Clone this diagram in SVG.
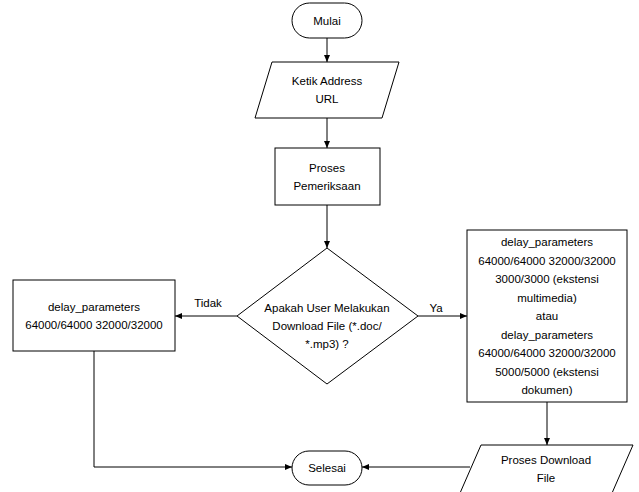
<svg xmlns="http://www.w3.org/2000/svg" width="639" height="492" viewBox="0 0 639 492">
<style>
.s{fill:#fff;stroke:#000;stroke-width:1}
.t{font-family:"Liberation Sans",Arial,sans-serif;font-size:11.5px;fill:#000;text-anchor:middle}
.c{fill:none;stroke:#000;stroke-width:1}
</style>
<defs>
<marker id="ah" markerWidth="8" markerHeight="8" refX="7" refY="4" orient="auto" markerUnits="userSpaceOnUse">
<path d="M0,1 L7,4 L0,7 z" fill="#000"/>
</marker>
</defs>
<g id="connectors">
<path class="c" d="M327,38 V62" marker-end="url(#ah)"/>
<path class="c" d="M327,118 V148" marker-end="url(#ah)"/>
<path class="c" d="M327,205 V248" marker-end="url(#ah)"/>
<path class="c" d="M237,316 H175" marker-end="url(#ah)"/>
<path class="c" d="M418,316 H467" marker-end="url(#ah)"/>
<path class="c" d="M547,402 V445" marker-end="url(#ah)"/>
<path class="c" d="M94,351 V467 H292" marker-end="url(#ah)"/>
<path class="c" d="M470,467 H362" marker-end="url(#ah)"/>
<text class="t" x="208" y="307">Tidak</text>
<text class="t" x="436" y="312">Ya</text>
</g>
<g id="mulai">
<rect class="s" x="292" y="3" width="70" height="35" rx="17.5"/>
<text class="t" x="327" y="24.5">Mulai</text>
</g>
<g id="ketik">
<path class="s" d="M272,62 H399 L382,118 H255 z"/>
<text class="t" x="327" y="85">Ketik Address</text>
<text class="t" x="327" y="103">URL</text>
</g>
<g id="proses">
<rect class="s" x="275" y="148" width="105" height="57"/>
<text class="t" x="327" y="172">Proses</text>
<text class="t" x="327" y="190">Pemeriksaan</text>
</g>
<g id="decision">
<path class="s" d="M327,248 L418,316 L327,384 L237,316 z"/>
<text class="t" x="327" y="312">Apakah User Melakukan</text>
<text class="t" x="327" y="330">Download File (*.doc/</text>
<text class="t" x="327" y="348">*.mp3) ?</text>
</g>
<g id="delay-left">
<rect class="s" x="13" y="280" width="162" height="71"/>
<text class="t" x="94" y="311">delay_parameters</text>
<text class="t" x="94" y="329">64000/64000 32000/32000</text>
</g>
<g id="delay-right">
<rect class="s" x="467" y="230" width="160" height="172"/>
<text class="t" x="547" y="246">delay_parameters</text>
<text class="t" x="547" y="264.5">64000/64000 32000/32000</text>
<text class="t" x="547" y="283">3000/3000 (ekstensi</text>
<text class="t" x="547" y="301.5">multimedia)</text>
<text class="t" x="547" y="320">atau</text>
<text class="t" x="547" y="338.5">delay_parameters</text>
<text class="t" x="547" y="357">64000/64000 32000/32000</text>
<text class="t" x="547" y="375.5">5000/5000 (ekstensi</text>
<text class="t" x="547" y="394">dokumen)</text>
</g>
<g id="download">
<path class="s" d="M481,445 H633 L609,500 H457 z"/>
<text class="t" x="546" y="464">Proses Download</text>
<text class="t" x="546" y="482">File</text>
</g>
<g id="selesai">
<rect class="s" x="292" y="451" width="70" height="34" rx="17"/>
<text class="t" x="327" y="472">Selesai</text>
</g>
</svg>
